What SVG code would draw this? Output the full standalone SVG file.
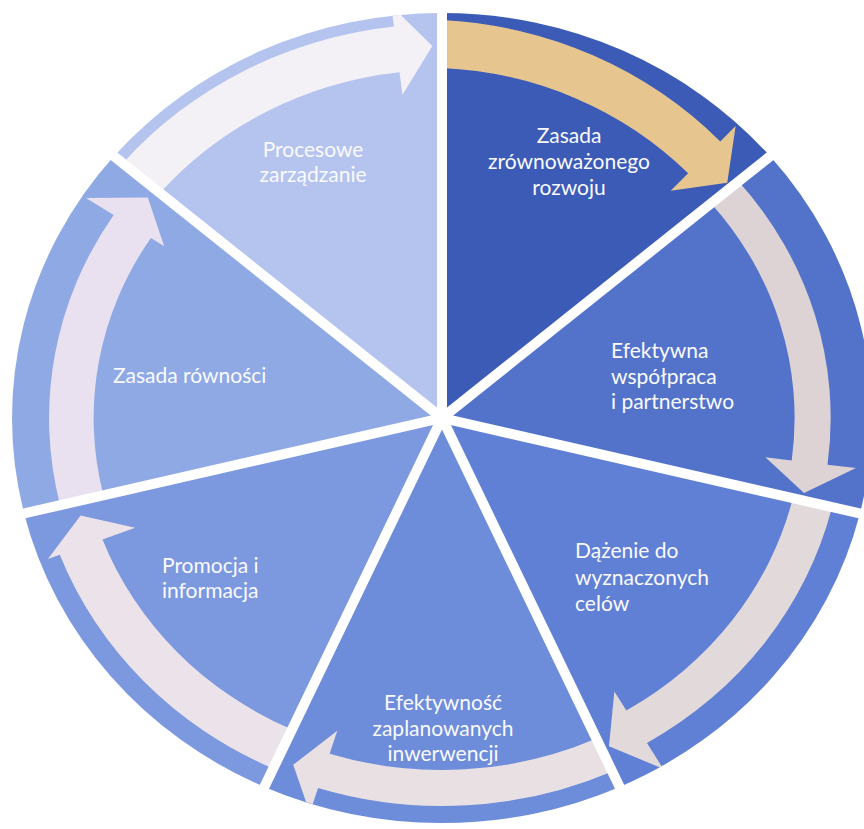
<svg xmlns="http://www.w3.org/2000/svg" width="864" height="829" viewBox="0 0 864 829">
<defs>
<clipPath id="disc"><ellipse cx="442" cy="418" rx="430" ry="405"/></clipPath>
</defs>
<style>
.lbl{font-family:Lato,"Open Sans","Liberation Sans",sans-serif;font-size:21px;fill:#fafafe}
.div{stroke:#ffffff;stroke-width:10;fill:none}
</style>
<rect width="864" height="829" fill="#ffffff"/>
<g id="node-zasada-zrownowazonego">
<path d="M442,418 L442,13 A430,405 0 0 1 770.1,156.3 Z" fill="#3b5bb7"/>
<g clip-path="url(#disc)"><path transform="translate(442,418) scale(1.062,1)" d="M0,-398 A389.5,389.5 0 0 1 262.0,-276.6 L276.5,-291.9 L268.6,-235.2 L215.3,-227.2 L231.8,-244.7 A343.5,343.5 0 0 0 0,-350 Z" fill="#e7c58f"/></g>
<text class="lbl" text-anchor="middle"><tspan x="569" y="143">Zasada</tspan><tspan x="569" y="169">zrównoważonego</tspan><tspan x="569" y="195">rozwoju</tspan></text>
</g>
<g id="node-efektywna-wspolpraca">
<path d="M442,418 L770.1,156.3 A430,405 0 0 1 859.9,513.4 Z" fill="#5373cb"/>
<g clip-path="url(#disc)"><path transform="translate(442,418) scale(1.062,1)" d="M279.3,-236.5 A366,366 0 0 1 363.0,46.7 L389.8,50.1 L340.9,74.9 L304.5,39.2 L329.3,42.4 A332,332 0 0 0 253.4,-214.5 Z" fill="#ddd3d5"/></g>
<text class="lbl"><tspan x="611" y="358">Efektywna</tspan><tspan x="611" y="384">współpraca</tspan><tspan x="611" y="409">i partnerstwo</tspan></text>
</g>
<g id="node-dazenie">
<path d="M442,418 L859.9,513.4 A430,405 0 0 1 619.6,786.9 Z" fill="#6080d5"/>
<g clip-path="url(#disc)"><path transform="translate(442,418) scale(1.062,1)" d="M367.3,89.1 A378,378 0 0 1 193.0,325.0 L208.3,350.8 L157.2,328.3 L162.3,273.5 L173.6,292.4 A340,340 0 0 0 330.4,80.1 Z" fill="#e2d9db"/></g>
<text class="lbl"><tspan x="575" y="558">Dążenie do</tspan><tspan x="575" y="585">wyznaczonych</tspan><tspan x="575" y="611">celów</tspan></text>
</g>
<g id="node-efektywnosc">
<path d="M442,418 L619.6,786.9 A430,405 0 0 1 264.4,786.9 Z" fill="#6d8cda"/>
<g clip-path="url(#disc)"><path transform="translate(442,418) scale(1.062,1)" d="M160.2,353.4 A388,388 0 0 1 -116.7,370.0 L-124.5,394.8 L-140.1,346.8 L-98.6,312.8 L-105.8,335.7 A352,352 0 0 0 145.4,320.6 Z" fill="#e8e0e3"/></g>
<text class="lbl" text-anchor="middle"><tspan x="443" y="710">Efektywność</tspan><tspan x="443" y="736">zaplanowanych</tspan><tspan x="443" y="761">inwerwencji</tspan></text>
</g>
<g id="node-promocja">
<path d="M442,418 L264.4,786.9 A430,405 0 0 1 24.1,513.4 Z" fill="#7c98df"/>
<g clip-path="url(#disc)"><path transform="translate(442,418) scale(1.062,1)" d="M-159.0,350.6 A385,385 0 0 1 -359.9,136.7 L-371.1,141.0 L-340.3,97.6 L-288.9,109.7 L-319.7,121.4 A342,342 0 0 0 -141.2,311.5 Z" fill="#ebe3e9"/></g>
<text class="lbl"><tspan x="162" y="573">Promocja i</tspan><tspan x="162" y="598">informacja</tspan></text>
</g>
<g id="node-zasada-rownosci">
<path d="M442,418 L24.1,513.4 A430,405 0 0 1 113.9,156.3 Z" fill="#8fa9e5"/>
<g clip-path="url(#disc)"><path transform="translate(442,418) scale(1.062,1)" d="M-359.6,87.2 A370,370 0 0 1 -309.2,-203.1 L-335.2,-220.1 L-277.0,-220.4 L-261.6,-171.8 L-274.1,-180.1 A328,328 0 0 0 -318.8,77.3 Z" fill="#e9e0f0"/></g>
<text class="lbl"><tspan x="113" y="383">Zasada równości</tspan></text>
</g>
<g id="node-procesowe">
<path d="M442,418 L113.9,156.3 A430,405 0 0 1 442,13 Z" fill="#b4c4ee"/>
<g clip-path="url(#disc)"><path transform="translate(442,418) scale(1.062,1)" d="M-300.7,-254.6 A394,394 0 0 1 -45.3,-391.4 L-47.7,-412.3 L-9.1,-371.9 L-37.3,-322.9 L-40.0,-345.7 A348,348 0 0 0 -265.6,-224.9 Z" fill="#f3f0f6"/></g>
<text class="lbl" text-anchor="middle"><tspan x="313" y="157">Procesowe</tspan><tspan x="313" y="182">zarządzanie</tspan></text>
</g>
<g id="connectors">
<line class="div" x1="442" y1="418" x2="442" y2="-5"/>
<line class="div" x1="442" y1="418" x2="786.5" y2="143.2"/>
<line class="div" x1="442" y1="418" x2="880.8" y2="518.2"/>
<line class="div" x1="442" y1="418" x2="628.5" y2="805.3"/>
<line class="div" x1="442" y1="418" x2="255.5" y2="805.3"/>
<line class="div" x1="442" y1="418" x2="3.2" y2="518.2"/>
<line class="div" x1="442" y1="418" x2="97.5" y2="143.2"/>
</g>
</svg>
